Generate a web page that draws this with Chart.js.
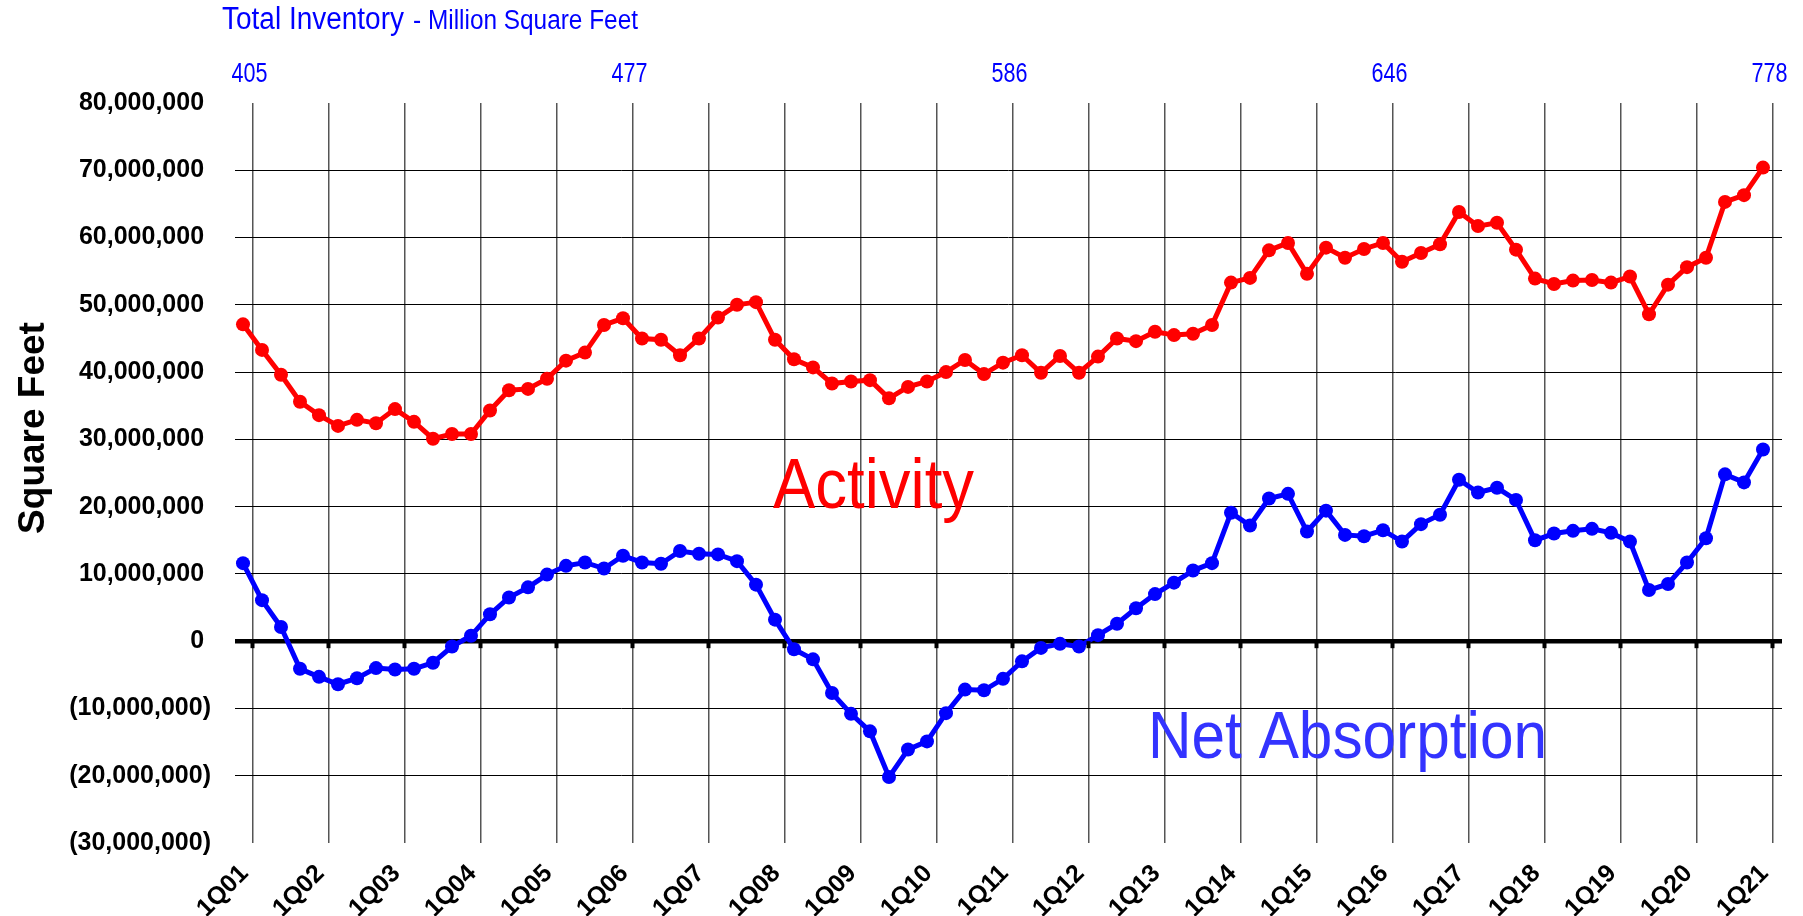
<!DOCTYPE html>
<html><head><meta charset="utf-8">
<script src="https://cdn.jsdelivr.net/npm/chart.js@4.4.1/dist/chart.umd.min.js"></script>
<style>html,body{margin:0;padding:0;background:#fff;overflow:hidden}#wrap{width:1803px;height:916px;position:relative}</style>
</head><body><div id="wrap"><canvas id="c" width="1803" height="916"></canvas></div>
<script>
// Tick labels on the quarter axis (one per year)
const quarterTickLabels = ['1Q01','1Q02','1Q03','1Q04','1Q05','1Q06','1Q07','1Q08','1Q09','1Q10','1Q11',
  '1Q12','1Q13','1Q14','1Q15','1Q16','1Q17','1Q18','1Q19','1Q20','1Q21'];

// Activity, million square feet, one value per quarter (81 quarters)
const activity = [
  47.1, 43.3, 39.6, 35.6, 33.6, 32.0, 32.9, 32.4, 34.5, 32.6,
  30.1, 30.8, 30.8, 34.3, 37.3, 37.5, 39.0, 41.7, 42.9, 47.0,
  48.0, 45.0, 44.8, 42.5, 45.0, 48.1, 50.0, 50.4, 44.8, 41.9,
  40.7, 38.3, 38.6, 38.8, 36.1, 37.8, 38.6, 40.0, 41.8, 39.7,
  41.4, 42.5, 39.9, 42.4, 39.9, 42.3, 45.0, 44.6, 46.0, 45.5,
  45.7, 47.0, 53.3, 54.0, 58.1, 59.2, 54.6, 58.5, 57.0, 58.3,
  59.2, 56.4, 57.7, 59.0, 63.8, 61.7, 62.2, 58.2, 53.9, 53.1,
  53.6, 53.7, 53.3, 54.2, 48.6, 53.0, 55.6, 57.0, 65.3, 66.3,
  70.4
];

// Net absorption, million square feet
const netAbsorption = [
  11.6, 6.1, 2.1, -4.1, -5.3, -6.4, -5.5, -4.0, -4.2, -4.1,
  -3.2, -0.8, 0.8, 4.0, 6.5, 8.0, 9.9, 11.2, 11.7, 10.8,
  12.7, 11.7, 11.5, 13.4, 13.0, 12.9, 11.9, 8.4, 3.2, -1.2,
  -2.7, -7.7, -10.8, -13.4, -20.2, -16.1, -14.9, -10.7, -7.2, -7.3,
  -5.6, -3.0, -1.0, -0.4, -0.8, 0.9, 2.6, 4.9, 7.0, 8.7,
  10.5, 11.6, 19.1, 17.2, 21.2, 21.9, 16.3, 19.4, 15.8, 15.6,
  16.5, 14.8, 17.4, 18.8, 24.0, 22.1, 22.8, 21.0, 15.0, 16.0,
  16.4, 16.7, 16.1, 14.8, 7.6, 8.5, 11.7, 15.3, 24.8, 23.6,
  28.5
];

// Total inventory (million square feet) shown above the chart
const inventoryQuarters = ['1Q01','1Q06','1Q11','1Q16','1Q21'];
const inventoryValues = [405, 477, 586, 646, 778];

// Value axis ticks (million square feet)
const yTickValues = [-30, -20, -10, 0, 10, 20, 30, 40, 50, 60, 70, 80];

const FONT = "'Liberation Sans', Arial, Helvetica, sans-serif";

function fmtSqFt(v) {
  const s = Math.round(Math.abs(v) * 1e6).toLocaleString('en-US');
  return v < 0 ? '(' + s + ')' : s + ' ';
}
function tickPos(label) { return 0.5 + 4 * quarterTickLabels.indexOf(label); }

function fitText(ctx, text, x, y, px, width, color, weight) {
  ctx.save();
  ctx.font = (weight || 'normal') + ' ' + px + 'px ' + FONT;
  const w = ctx.measureText(text).width;
  const sx = width / w;
  ctx.translate(x, y);
  ctx.scale(sx, 1);
  ctx.fillStyle = color;
  ctx.textAlign = 'left';
  ctx.textBaseline = 'alphabetic';
  ctx.fillText(text, 0, 0);
  ctx.restore();
}
function fitTextCenter(ctx, text, cx, y, px, width, color) {
  fitText(ctx, text, cx - width / 2, y, px, width, color);
}

const decor = {
  id: 'decor',
  afterDatasetsDraw(chart) {
    const ctx = chart.ctx, xs = chart.scales.x, ys = chart.scales.y;
    // small tick marks under the zero line
    const y0 = ys.getPixelForValue(0);
    ctx.save();
    ctx.fillStyle = '#000';
    xs.ticks.forEach(t => {
      const px = xs.getPixelForValue(t.value);
      ctx.fillRect(px - 2, y0, 4, 7);
    });
    ctx.restore();
  },
  afterDraw(chart) {
    const ctx = chart.ctx, xs = chart.scales.x;
    // title
    fitText(ctx, 'Total Inventory', 222, 29, 31, 182, '#0000FF');
    fitText(ctx, '- Million Square Feet', 413, 29, 27, 225, '#0000FF');
    // inventory values along the top
    inventoryValues.forEach((v, i) => {
      const px = xs.getPixelForValue(tickPos(inventoryQuarters[i]));
      fitTextCenter(ctx, String(v), px - 3, 82, 27, 36, '#0000FF');
    });
    // series annotations
    fitText(ctx, 'Activity', 773, 508, 70, 201, '#FF0000');
    fitText(ctx, 'Net Absorption', 1148, 758, 67, 399, '#3333FF');
    // value axis title
    ctx.save();
    ctx.translate(44, 428);
    ctx.rotate(-Math.PI / 2);
    ctx.font = 'bold 37px ' + FONT;
    ctx.fillStyle = '#000';
    ctx.textAlign = 'center';
    ctx.textBaseline = 'alphabetic';
    ctx.fillText('Square Feet', 0, 0);
    ctx.restore();
  }
};

new Chart(document.getElementById('c'), {
  type: 'line',
  data: {
    datasets: [
      { label: 'Net Absorption', data: netAbsorption.map((v, i) => ({ x: i, y: v })),
        borderColor: '#0000FF', backgroundColor: '#0000FF', borderWidth: 5,
        pointRadius: 7, pointBorderWidth: 0, pointBackgroundColor: '#0000FF', tension: 0 },
      { label: 'Activity', data: activity.map((v, i) => ({ x: i, y: v })),
        borderColor: '#FF0000', backgroundColor: '#FF0000', borderWidth: 5,
        pointRadius: 7, pointBorderWidth: 0, pointBackgroundColor: '#FF0000', tension: 0 }
    ]
  },
  options: {
    responsive: false, animation: false, devicePixelRatio: 1,
    layout: { padding: { top: 103, right: 21, left: 0, bottom: 0 } },
    plugins: { legend: { display: false }, tooltip: { enabled: false } },
    scales: {
      x: {
        type: 'linear', min: -0.421, max: 81.0,
        afterBuildTicks: s => { s.ticks = quarterTickLabels.map(l => ({ value: tickPos(l) })); },
        afterFit: s => { s.height = 73; s.paddingLeft = 0; s.paddingRight = 0; },
        ticks: { autoSkip: false, maxRotation: 45, minRotation: 45, padding: 16, labelOffset: -8, color: '#000',
          font: { family: FONT, size: 25, weight: 'bold' },
          callback: (v, i) => quarterTickLabels[i] },
        grid: { color: '#555', lineWidth: 1.5, drawTicks: false },
        border: { display: false }
      },
      y: {
        min: -30, max: 80,
        afterBuildTicks: s => { s.ticks = yTickValues.map(v => ({ value: v })); },
        afterFit: s => { s.width = 235; },
        ticks: { padding: 24, color: '#000', font: { family: FONT, size: 25, weight: 'bold' },
          callback: v => fmtSqFt(v) },
        grid: { drawTicks: false,
          color: c => (c.tick && (c.tick.value === 80 || c.tick.value === -30)) ? 'rgba(0,0,0,0)' : '#000',
          lineWidth: c => (c.tick && c.tick.value === 0) ? 4.5 : 1 },
        border: { display: false }
      }
    }
  },
  plugins: [decor]
});
</script></body></html>
